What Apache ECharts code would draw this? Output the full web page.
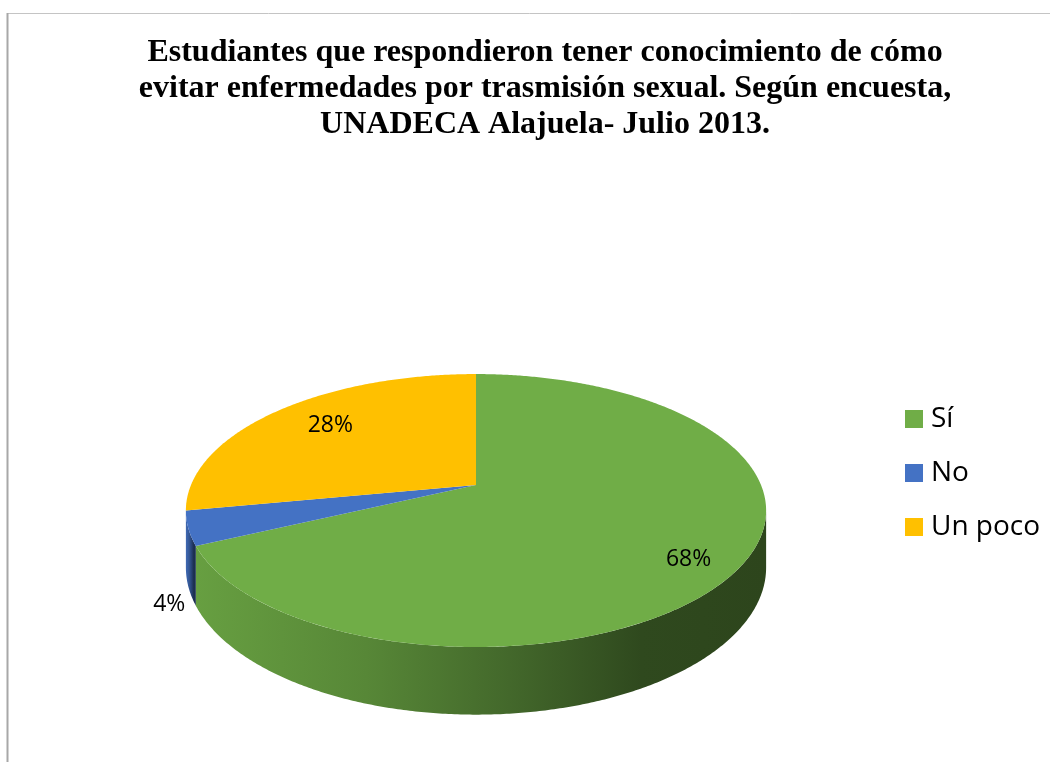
<!DOCTYPE html>
<html>
<head>
<meta charset="utf-8">
<script src="https://cdn.jsdelivr.net/npm/echarts@6/dist/echarts.min.js"></script>
<style>
  html, body { margin: 0; padding: 0; background: #ffffff; }
  #chart { width: 1050px; height: 762px; }
</style>
</head>
<body>
<div id="chart"></div>
<script>
// Survey answers (percent of students)
const categories = ['Sí', 'No', 'Un poco'];
const shares = [68, 4, 28];
const colors = ['#70AD47', '#4472C4', '#FFC000'];
const titleLines = [
  'Estudiantes que respondieron tener conocimiento de cómo',
  'evitar enfermedades por trasmisión sexual. Según encuesta,',
  'UNADECA Alajuela- Julio 2013.'
];

// Tilted-disc geometry (perspective view of a flat cylinder)
const CX = 476, CY = 485;      // screen position of the disc centre
const A = 285, B = 131.7;      // horizontal / vertical radii factors
const E = -0.187;              // perspective factor (near side larger)
const H = 55;                  // thickness of the disc
const LABEL_R = 0.78;
const LABEL_NUDGE = [[9, 15], [0, 0], [11, 0]];

const total = shares.reduce((s, v) => s + v, 0);
const starts = [];
shares.reduce((acc, v, i) => { starts[i] = acc; return acc + v; }, 0);

function project(theta, r, drop) {
  const u = r * Math.sin(theta), v = -r * Math.cos(theta);
  const d = 1 + E * v;
  return [CX + A * u / d, CY + (B * v + drop) / d];
}
function sliceAngles(i) {
  const a0 = starts[i] / total * Math.PI * 2;
  const a1 = (starts[i] + shares[i]) / total * Math.PI * 2;
  return [a0, a1];
}
function arc(a0, a1, r, drop) {
  const pts = [];
  const n = Math.max(2, Math.ceil((a1 - a0) / (Math.PI / 360)));
  for (let k = 0; k <= n; k++) pts.push(project(a0 + (a1 - a0) * k / n, r, drop));
  return pts;
}
function shade(hex, k) {
  const n = parseInt(hex.slice(1), 16);
  const c = [(n >> 16) & 255, (n >> 8) & 255, n & 255].map(x => Math.round(x * k));
  return 'rgb(' + c.join(',') + ')';
}
// the outer wall is visible where cos(theta) < E
const VIS0 = Math.acos(E), VIS1 = Math.PI * 2 - Math.acos(E);

function renderWall(i) {
  return function () {
    const [a0, a1] = sliceAngles(i);
    const s = Math.max(a0, VIS0), t = Math.min(a1, VIS1);
    if (t <= s) return { type: 'group', children: [] };
    const top = arc(s, t, 1, 0);
    const bottom = arc(s, t, 1, H).reverse();
    return {
      type: 'polygon',
      shape: { points: top.concat(bottom) },
      style: {
        fill: {
          type: 'linear', x: 1, y: 0, x2: 0, y2: 0,
          colorStops: [
            { offset: 0, color: shade(colors[i], 0.40) },
            { offset: 0.22, color: shade(colors[i], 0.42) },
            { offset: 0.45, color: shade(colors[i], 0.6) },
            { offset: 0.7, color: shade(colors[i], 0.78) },
            { offset: 1, color: shade(colors[i], 0.92) }
          ]
        }
      }
    };
  };
}

function renderTop(i) {
  return function () {
    const [a0, a1] = sliceAngles(i);
    const pts = [[CX, CY]].concat(arc(a0, a1, 1, 0));
    const mid = (a0 + a1) / 2;
    const text = Math.round(shares[i] / total * 100) + '%';
    let label;
    if (shares[i] / total >= 0.1) {
      const p = project(mid, LABEL_R, 0);
      label = { type: 'text', x: p[0] + LABEL_NUDGE[i][0], y: p[1] + LABEL_NUDGE[i][1],
        style: { text, align: 'center', verticalAlign: 'middle',
          font: '23px "Open Sans"', fill: '#000000' } };
    } else {
      const p = project(mid, 1, H);
      label = { type: 'text', x: p[0] - 3, y: p[1] + 18,
        style: { text, align: 'right', verticalAlign: 'middle',
          font: '23px "Open Sans"', fill: '#000000' } };
    }
    return {
      type: 'group',
      children: [
        { type: 'polygon', shape: { points: pts }, style: { fill: colors[i] } },
        label
      ]
    };
  };
}

const series = [];
categories.forEach((name, i) => {
  series.push({
    type: 'custom', name, coordinateSystem: 'none', z: 3,
    itemStyle: { color: colors[i] },
    data: [[shares[i]]], renderItem: renderTop(i), silent: true
  });
});
categories.forEach((name, i) => {
  series.push({
    type: 'custom', name, coordinateSystem: 'none', z: 2,
    itemStyle: { color: colors[i] },
    data: [[shares[i]]], renderItem: renderWall(i), silent: true
  });
});

const chart = echarts.init(document.getElementById('chart'), null, { renderer: 'canvas' });
chart.setOption({
  backgroundColor: '#ffffff',
  animation: false,
  title: {
    text: titleLines.join('\n'),
    left: 540, top: 30, textAlign: 'center',
    textStyle: {
      fontFamily: '"Liberation Serif", "Times New Roman", serif',
      fontWeight: 'bold', fontSize: 32, lineHeight: 36, color: '#000000'
    }
  },
  legend: {
    data: categories,
    orient: 'vertical',
    left: 905, top: 402, padding: 0,
    icon: 'rect', itemWidth: 18, itemHeight: 18, itemGap: 20,
    selectedMode: false,
    textStyle: { fontFamily: '"Open Sans"', fontSize: 28, color: '#000000', lineHeight: 34, padding: [0, 0, 0, 3] }
  },
  graphic: [
    { type: 'rect', shape: { x: 7.5, y: 13.5, width: 1200, height: 900 },
      style: { fill: null, stroke: '#C4C4C4', lineWidth: 1 }, silent: true },
    { type: 'line', shape: { x1: 7.5, y1: 13, x2: 7.5, y2: 900 },
      style: { stroke: '#A8A8A8', lineWidth: 2 }, silent: true }
  ],
  series
});
</script>
</body>
</html>
